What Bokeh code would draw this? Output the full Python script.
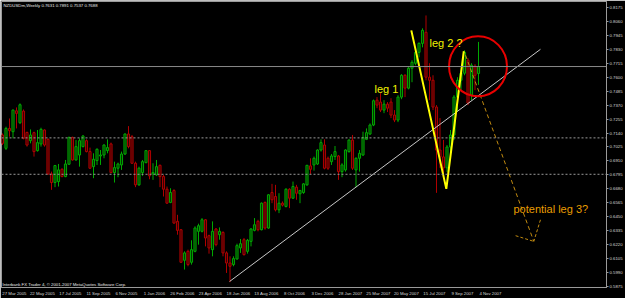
from bokeh.plotting import figure
from bokeh.models import Range1d, FixedTicker, PrintfTickFormatter, Span, Label, ColumnDataSource
from bokeh.embed import file_html
from bokeh.resources import INLINE
from bokeh.core.properties import value

# ---------------- data (weekly NZDUSDm, week 0 = 27 Mar 2005) ----------------
opens = [0.7124, 0.7014, 0.7178, 0.7151, 0.7323, 0.7225, 0.7321, 0.7145, 0.7077, 0.7143,
         0.6995, 0.7050, 0.7165, 0.7088, 0.6803, 0.6732, 0.6740, 0.6841, 0.6781, 0.6883,
         0.7104, 0.6918, 0.6959, 0.7028, 0.7077, 0.6987, 0.6863, 0.6913, 0.6951, 0.6959,
         0.6995, 0.7050, 0.6814, 0.6850, 0.6877, 0.6967, 0.7132, 0.7110, 0.6891, 0.6713,
         0.6814, 0.6896, 0.6995, 0.6803, 0.6795, 0.6874, 0.6781, 0.6677, 0.6568, 0.6666,
         0.6412, 0.6343, 0.6091, 0.6165, 0.6075, 0.6165, 0.6330, 0.6330, 0.6425, 0.6294,
         0.6179, 0.6349, 0.6302, 0.6321, 0.6152, 0.6069, 0.6056, 0.6102, 0.6193, 0.6261,
         0.6165, 0.6247, 0.6338, 0.6412, 0.6343, 0.6568, 0.6357, 0.6650, 0.6617, 0.6507,
         0.6562, 0.6535, 0.6677, 0.6603, 0.6694, 0.6639, 0.6650, 0.6713, 0.6869, 0.6877,
         0.6885, 0.7000, 0.7041, 0.6932, 0.6904, 0.6946, 0.6951, 0.6822, 0.6836, 0.6987,
         0.7082, 0.6836, 0.6932, 0.6959, 0.7088, 0.7132, 0.7206, 0.7411, 0.7395, 0.7329,
         0.7378, 0.7395, 0.7288, 0.7247, 0.7436, 0.7616, 0.7510, 0.7674, 0.7715, 0.7805,
         0.7879, 0.7970, 0.7600, 0.7575, 0.7354, 0.7000, 0.6943, 0.6853, 0.7025, 0.7124,
         0.7436, 0.7575, 0.7633, 0.7740, 0.7452, 0.7690, 0.7631]
highs = [0.7137, 0.7192, 0.7260, 0.7334, 0.7351, 0.7384, 0.7334, 0.7151, 0.7170, 0.7151,
         0.7165, 0.7184, 0.7170, 0.7096, 0.6822, 0.6877, 0.6885, 0.6850, 0.6918, 0.7110,
         0.7110, 0.7082, 0.7096, 0.7124, 0.7088, 0.7020, 0.6973, 0.7014, 0.7000, 0.7047,
         0.7088, 0.7061, 0.6904, 0.6896, 0.6987, 0.7137, 0.7197, 0.7124, 0.6904, 0.6863,
         0.6918, 0.7000, 0.7000, 0.6891, 0.6918, 0.6880, 0.6795, 0.6699, 0.6685, 0.6677,
         0.6466, 0.6349, 0.6165, 0.6179, 0.6256, 0.6371, 0.6393, 0.6439, 0.6431, 0.6302,
         0.6412, 0.6357, 0.6362, 0.6330, 0.6165, 0.6124, 0.6124, 0.6228, 0.6267, 0.6275,
         0.6267, 0.6357, 0.6439, 0.6425, 0.6568, 0.6576, 0.6636, 0.6721, 0.6713, 0.6644,
         0.6576, 0.6685, 0.6685, 0.6740, 0.6713, 0.6672, 0.6727, 0.6877, 0.6932, 0.6946,
         0.7006, 0.7088, 0.7088, 0.6946, 0.6967, 0.7033, 0.6959, 0.6891, 0.7006, 0.7088,
         0.7124, 0.6940, 0.7000, 0.7151, 0.7178, 0.7219, 0.7416, 0.7436, 0.7469, 0.7411,
         0.7395, 0.7427, 0.7329, 0.7452, 0.7625, 0.7625, 0.7690, 0.7740, 0.7822, 0.7887,
         0.8003, 0.8109, 0.7715, 0.7616, 0.7370, 0.7263, 0.7083, 0.7041, 0.7165, 0.7452,
         0.7600, 0.7658, 0.7822, 0.7756, 0.7715, 0.7707, 0.7891]
lows = [0.7041, 0.7000, 0.7110, 0.7096, 0.7178, 0.7214, 0.7088, 0.7028, 0.7055, 0.6946,
        0.6987, 0.7028, 0.7028, 0.6795, 0.6672, 0.6694, 0.6699, 0.6776, 0.6776, 0.6877,
        0.6913, 0.6913, 0.6863, 0.7022, 0.6981, 0.6844, 0.6768, 0.6877, 0.6877, 0.6932,
        0.6973, 0.6809, 0.6732, 0.6776, 0.6836, 0.6959, 0.7014, 0.6885, 0.6694, 0.6705,
        0.6787, 0.6891, 0.6759, 0.6754, 0.6787, 0.6694, 0.6617, 0.6557, 0.6562, 0.6393,
        0.6302, 0.6069, 0.6015, 0.6042, 0.6056, 0.6157, 0.6220, 0.6321, 0.6206, 0.6146,
        0.6124, 0.6206, 0.6261, 0.6124, 0.5987, 0.5911, 0.6042, 0.6097, 0.6152, 0.6130,
        0.6146, 0.6206, 0.6330, 0.6330, 0.6338, 0.6343, 0.6351, 0.6562, 0.6494, 0.6480,
        0.6535, 0.6527, 0.6521, 0.6598, 0.6590, 0.6562, 0.6639, 0.6705, 0.6803, 0.6830,
        0.6877, 0.6987, 0.6841, 0.6836, 0.6877, 0.6918, 0.6754, 0.6776, 0.6822, 0.6978,
        0.6836, 0.6694, 0.6822, 0.6951, 0.7082, 0.7124, 0.7197, 0.7345, 0.7313, 0.7304,
        0.7313, 0.7263, 0.7230, 0.7230, 0.7419, 0.7436, 0.7500, 0.7559, 0.7699, 0.7764,
        0.7846, 0.7575, 0.7411, 0.7329, 0.6647, 0.6853, 0.6795, 0.6820, 0.6984, 0.7083,
        0.7313, 0.7493, 0.7616, 0.7370, 0.7411, 0.7493, 0.7537]
closes = [0.7055, 0.7178, 0.7159, 0.7329, 0.7302, 0.7373, 0.7096, 0.7041, 0.7124, 0.6987,
          0.7061, 0.7170, 0.7041, 0.6803, 0.6732, 0.6872, 0.6836, 0.6781, 0.6885, 0.7104,
          0.6918, 0.7028, 0.7077, 0.7115, 0.6987, 0.6850, 0.6924, 0.7006, 0.6959, 0.7041,
          0.7020, 0.6814, 0.6855, 0.6885, 0.6967, 0.7132, 0.7028, 0.6891, 0.6713, 0.6850,
          0.6904, 0.6995, 0.6787, 0.6814, 0.6863, 0.6781, 0.6677, 0.6562, 0.6650, 0.6398,
          0.6338, 0.6075, 0.6152, 0.6056, 0.6179, 0.6357, 0.6376, 0.6425, 0.6275, 0.6193,
          0.6330, 0.6220, 0.6330, 0.6152, 0.6069, 0.6042, 0.6105, 0.6212, 0.6228, 0.6138,
          0.6256, 0.6349, 0.6384, 0.6343, 0.6562, 0.6357, 0.6631, 0.6590, 0.6507, 0.6562,
          0.6546, 0.6677, 0.6603, 0.6699, 0.6644, 0.6666, 0.6721, 0.6874, 0.6841, 0.6932,
          0.7000, 0.7061, 0.6850, 0.6850, 0.6951, 0.6987, 0.6822, 0.6877, 0.7000, 0.7082,
          0.6850, 0.6932, 0.6973, 0.7104, 0.7143, 0.7206, 0.7406, 0.7370, 0.7329, 0.7378,
          0.7345, 0.7288, 0.7247, 0.7436, 0.7616, 0.7510, 0.7674, 0.7723, 0.7805, 0.7879,
          0.7986, 0.7600, 0.7575, 0.7354, 0.7000, 0.6943, 0.6853, 0.7025, 0.7124, 0.7436,
          0.7575, 0.7633, 0.7805, 0.7386, 0.7699, 0.7616, 0.7688]
weeks = list(range(len(opens)))

date_weeks = [0, 8, 16, 24, 32, 40, 48, 56, 64, 72, 80, 88, 96, 104, 112, 120, 128, 136]
date_labels = ["27 Mar 2005", "22 May 2005", "17 Jul 2005", "11 Sep 2005", "6 Nov 2005",
               "1 Jan 2006", "26 Feb 2006", "23 Apr 2006", "18 Jun 2006", "13 Aug 2006",
               "8 Oct 2006", "3 Dec 2006", "28 Jan 2007", "25 Mar 2007", "20 May 2007",
               "15 Jul 2007", "9 Sep 2007", "4 Nov 2007"]
price_ticks = [0.5875, 0.5990, 0.6105, 0.6220, 0.6335, 0.6450, 0.6565, 0.6680, 0.6795,
               0.6910, 0.7025, 0.7140, 0.7255, 0.7370, 0.7485, 0.7600, 0.7715, 0.7830,
               0.7945, 0.8060, 0.8175]

bid_price = 0.7688
level_lines = [0.7100, 0.6800]
title_text = "NZDUSDm,Weekly  0.7631 0.7891 0.7537 0.7688"
copyright_text = "Interbank FX Trader 4, \u00a9 2001-2007 MetaQuotes Software Corp."

# hand-drawn objects (anchor points in week / price)
trend_x = [64.9, 153.7]
trend_y = [0.5917, 0.7830]
leg_x = [116.8, 126.8, 131.8]
leg_y = [0.7986, 0.6680, 0.7814]
leg3_x = [132.3, 151.8]
leg3_y = [0.7781, 0.6247]
arrow_x0 = [146.6, 153.7]
arrow_y0 = [0.6294, 0.6425]
circle_x = [135.86]
circle_y = [0.7690]
notes = ["leg 1", "leg 2 ?"]
notes_x = [106.3, 122.0]
notes_y = [0.7501, 0.7879]
note3 = "potential leg 3?"
note3_x = 146.0
note3_y = 0.6516

# ---------------- figure ----------------
FONT = "Liberation Sans"
p = figure(width=625, height=298, output_backend="svg", toolbar_location=None, title=None,
           x_range=Range1d(-0.286, 172.57), y_range=Range1d(0.5867, 0.8224),
           y_axis_location="right", min_border_left=1, min_border_top=1,
           min_border_right=19, min_border_bottom=10,
           background_fill_color="#000000", border_fill_color="#000000",
           outline_line_color="#9a9a9a")
p.grid.visible = False

yax = p.yaxis[0]
yax.ticker = FixedTicker(ticks=price_ticks)
yax.formatter = PrintfTickFormatter(format="%.4f")
xax = p.xaxis[0]
label_shift = 3.4
xticks = [w + label_shift for w in date_weeks]
xax.ticker = FixedTicker(ticks=xticks)
xax.major_label_overrides = {t: s for t, s in zip(xticks, date_labels)}
for ax in (yax, xax):
    ax.major_label_text_font_size = "4.3px"
    ax.major_label_text_font = FONT
    ax.major_label_text_color = "#d8d8d8"
    ax.axis_line_color = "#9a9a9a"
    ax.major_tick_line_color = "#9a9a9a"
    ax.major_tick_out = 2
    ax.major_tick_in = 0
    ax.minor_tick_line_color = None
    ax.major_label_standoff = 1
xax.major_tick_line_color = None

# level lines
p.add_layout(Span(location=bid_price, dimension="width", line_color="#8a8a8a", line_width=1))
for lv in level_lines:
    p.add_layout(Span(location=lv, dimension="width", line_color="#9a9a9a",
                      line_width=1, line_dash="2 2"))

# candles
up = [c >= o for o, c in zip(opens, closes)]
src = ColumnDataSource(dict(
    x=weeks, h=highs, l=lows,
    top=[max(o, c) for o, c in zip(opens, closes)],
    bottom=[min(o, c) for o, c in zip(opens, closes)],
    line=["#00a800" if u else "#b00000" for u in up],
    fill=["#003800" if u else "#380000" for u in up],
))
p.segment(x0="x", y0="h", x1="x", y1="l", line_color="line", line_width=1, source=src)
p.vbar(x="x", width=0.6, top="top", bottom="bottom", fill_color="fill",
       line_color="line", line_width=1, source=src)

# drawings
p.line(trend_x, trend_y, line_color="#c8c8c8", line_width=1)
p.line(leg_x, leg_y, line_color="#ffff00", line_width=2)
p.line(leg3_x, leg3_y, line_color="#c08a10", line_width=1, line_dash="4 3")
p.segment(x0=arrow_x0, y0=arrow_y0, x1=[leg3_x[1]] * 2, y1=[leg3_y[1]] * 2,
          line_color="#c08a10", line_width=1, line_dash="3 2")
p.ellipse(x=circle_x, y=circle_y, width=58, height=60, width_units="screen",
          height_units="screen", fill_alpha=0, line_color="#e80000", line_width=2)

p.text(x=notes_x, y=notes_y, text=notes, text_color="#f0f000",
       text_font=value(FONT), text_font_size=value("11px"),
       text_align="left", text_baseline="alphabetic")
p.text(x=[note3_x], y=[note3_y], text=[note3], text_color="#e89c00",
       text_font=value(FONT), text_font_size=value("11px"),
       text_align="left", text_baseline="alphabetic")

# header / footer / price tags
p.add_layout(Label(x=2, y=285, x_units="screen", y_units="screen", text=title_text,
                   text_font=FONT, text_font_size="4.3px", text_color="#e8e8e8",
                   text_baseline="top"))
p.add_layout(Label(x=1, y=1, x_units="screen", y_units="screen", text=copyright_text,
                   text_font=FONT, text_font_size="4.3px", text_color="#e8e8e8",
                   text_baseline="bottom"))
for pr in [bid_price] + level_lines:
    p.add_layout(Label(x=606, y=pr, x_units="screen", y_units="data", text="%.4f" % pr,
                       text_font=FONT, text_font_size="4.3px", text_color="#000000",
                       background_fill_color="#ffffff", text_baseline="middle"))

open("out.html", "w").write(file_html(p, INLINE))
